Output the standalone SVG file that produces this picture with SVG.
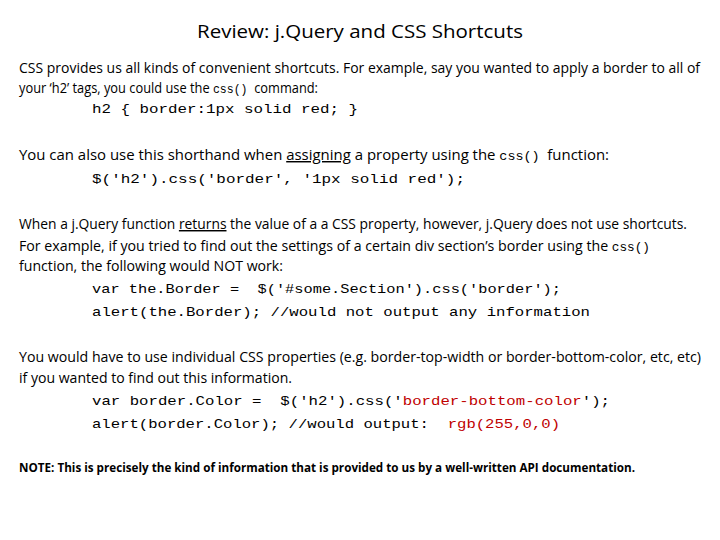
<svg xmlns="http://www.w3.org/2000/svg" width="720" height="540" viewBox="0 0 720 540">
<style>
.t{font-family:"Open Sans","Liberation Sans",sans-serif;font-size:14.5px;fill:#000}
.m{font-family:"Liberation Mono","DejaVu Sans Mono",monospace;font-size:13px;fill:#000}
.r{fill:#c00000}
.u{text-decoration:underline}
</style>
<rect width="720" height="540" fill="#fff"/>
<g id="title"><text x="360" y="38" text-anchor="middle" font-family="Open Sans, Liberation Sans, sans-serif" font-size="18" textLength="326" lengthAdjust="spacingAndGlyphs">Review: j.Query and CSS Shortcuts</text></g>
<g id="p1">
<text class="t" x="19" y="73" textLength="681" lengthAdjust="spacingAndGlyphs">CSS provides us all kinds of convenient shortcuts. For example, say you wanted to apply a border to all of</text>
<text class="t" x="19" y="93" textLength="299" lengthAdjust="spacingAndGlyphs" xml:space="preserve">your ‘h2’ tags, you could use the <tspan class="m" font-size="12">css()</tspan>  command:</text>
<text class="m" x="92" y="113" textLength="266" lengthAdjust="spacingAndGlyphs">h2 { border:1px solid red; }</text>
</g>
<g id="p2">
<text class="t" x="19" y="160" textLength="590" lengthAdjust="spacingAndGlyphs" xml:space="preserve">You can also use this shorthand when <tspan class="u">assigning</tspan> a property using the <tspan class="m" font-size="12">css()</tspan>  function:</text>
<text class="m" x="92" y="183" textLength="373" lengthAdjust="spacingAndGlyphs">$('h2').css('border', '1px solid red');</text>
</g>
<g id="p3">
<text class="t" x="19" y="229" textLength="668" lengthAdjust="spacingAndGlyphs">When a j.Query function <tspan class="u">returns</tspan> the value of a a CSS property, however, j.Query does not use shortcuts.</text>
<text class="t" x="19" y="251" textLength="631" lengthAdjust="spacingAndGlyphs">For example, if you tried to find out the settings of a certain div section’s border using the <tspan class="m" font-size="12">css()</tspan></text>
<text class="t" x="19" y="271" textLength="264" lengthAdjust="spacingAndGlyphs">function, the following would NOT work:</text>
<text class="m" x="92" y="293" textLength="469" lengthAdjust="spacingAndGlyphs" xml:space="preserve">var the.Border =  $('#some.Section').css('border');</text>
<text class="m" x="92" y="316" textLength="498" lengthAdjust="spacingAndGlyphs">alert(the.Border); //would not output any information</text>
</g>
<g id="p4">
<text class="t" x="19" y="362" textLength="682" lengthAdjust="spacingAndGlyphs">You would have to use individual CSS properties (e.g. border-top-width  or border-bottom-color, etc, etc)</text>
<text class="t" x="19" y="383" textLength="273" lengthAdjust="spacingAndGlyphs">if you wanted to find out this information.</text>
<text class="m" x="92" y="405" textLength="518" lengthAdjust="spacingAndGlyphs" xml:space="preserve">var border.Color =  $('h2').css('<tspan class="r">border-bottom-color</tspan>');</text>
<text class="m" x="92" y="428" textLength="468" lengthAdjust="spacingAndGlyphs" xml:space="preserve">alert(border.Color); //would output:  <tspan class="r">rgb(255,0,0)</tspan></text>
</g>
<g id="note"><text x="19" y="472" font-family="Open Sans, Liberation Sans, sans-serif" font-size="12" font-weight="bold" textLength="616" lengthAdjust="spacingAndGlyphs">NOTE: This is precisely the kind of information that is provided to us by a well-written API documentation.</text></g>
</svg>
